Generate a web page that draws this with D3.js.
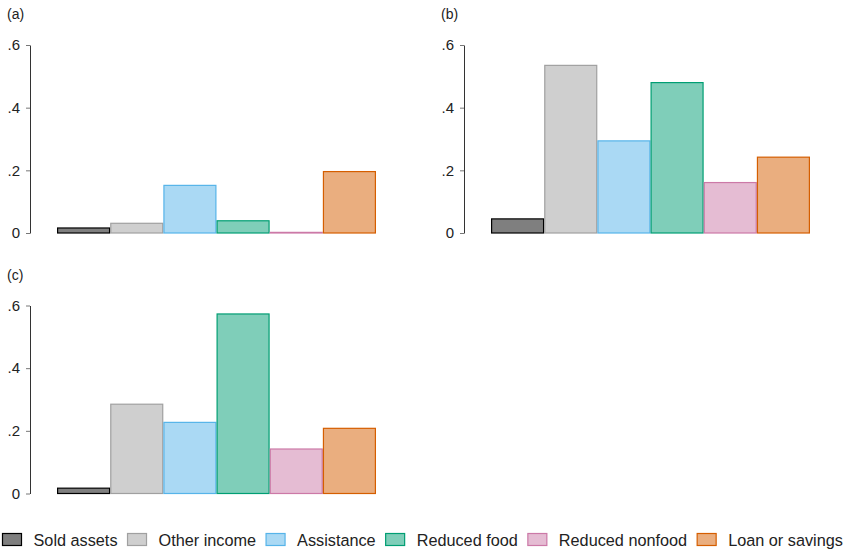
<!DOCTYPE html>
<html>
<head>
<meta charset="utf-8">
<script src="https://cdn.jsdelivr.net/npm/d3@7"></script>
<style>
  body { margin: 0; background: #fff; }
  svg { font-family: "Liberation Sans", Arial, Helvetica, sans-serif; }
  .axis .domain { stroke: #333; }
  .axis .tick line { stroke: #777; }
  .axis .tick text { fill: #222; font-size: 15px; }
</style>
</head>
<body>
<script>
'use strict';

const categories = ['Sold assets', 'Other income', 'Assistance', 'Reduced food', 'Reduced nonfood', 'Loan or savings'];
const colors = ['#000000', '#a0a0a0', '#56b4e9', '#009e73', '#cc79a7', '#d55e00'];
const panelA = [0.016, 0.031, 0.152, 0.039, 0.002, 0.196];
const panelB = [0.045, 0.535, 0.294, 0.480, 0.161, 0.242];
const panelC = [0.017, 0.285, 0.227, 0.573, 0.142, 0.208];
const yTicks = [0, 0.2, 0.4, 0.6];

const width = 857, height = 550;
const svg = d3.select('body').append('svg')
  .attr('width', width)
  .attr('height', height);

const panels = [
  { label: '(a)', values: panelA, x: 0, y: 0 },
  { label: '(b)', values: panelB, x: 434, y: 0 },
  { label: '(c)', values: panelC, x: 0, y: 260.5 }
];

const fmt = function (d) {
  return d === 0 ? '0' : d3.format('.1f')(d).replace(/^0/, '');
};

panels.forEach(function (p) {
  const g = svg.append('g').attr('transform', `translate(${p.x}, ${p.y})`);
  const axisX = 30;

  const yScale = d3.scaleLinear()
    .domain([0, 0.6])
    .range([233, 45]);

  const xScale = d3.scaleBand()
    .domain(categories)
    .range([axisX + 27, axisX + 346])
    .padding(0);

  g.append('text')
    .attr('x', 7)
    .attr('y', 19)
    .attr('font-size', 14)
    .attr('fill', '#222')
    .text(p.label);

  g.append('g')
    .attr('class', 'axis')
    .attr('transform', `translate(${axisX}, 0)`)
    .call(d3.axisLeft(yScale)
      .tickValues(yTicks)
      .tickSize(4)
      .tickSizeOuter(0)
      .tickPadding(6)
      .tickFormat(fmt));

  g.selectAll('.bar')
    .data(p.values)
    .enter().append('rect')
      .attr('class', 'bar')
      .attr('x', function (d, i) { return xScale(categories[i]) + 0.6; })
      .attr('y', function (d) { return yScale(d); })
      .attr('width', xScale.bandwidth() - 1.2)
      .attr('height', function (d) { return yScale(0) - yScale(d); })
      .attr('fill', function (d, i) { return colors[i]; })
      .attr('fill-opacity', 0.5)
      .attr('stroke', function (d, i) { return colors[i]; })
      .attr('stroke-width', 1.2);
});

// legend
const legend = svg.append('g').attr('transform', 'translate(0, 533)');
let lx = 2.5;
categories.forEach(function (c, i) {
  legend.append('rect')
    .attr('x', lx)
    .attr('y', 0.5)
    .attr('width', 19)
    .attr('height', 12)
    .attr('fill', colors[i])
    .attr('fill-opacity', 0.5)
    .attr('stroke', colors[i])
    .attr('stroke-width', 1.2);
  const t = legend.append('text')
    .attr('x', lx + 31)
    .attr('y', 12.5)
    .attr('font-size', 16.25)
    .attr('fill', '#222')
    .text(c);
  lx += 31 + t.node().getComputedTextLength() + 10;
});
</script>
</body>
</html>
